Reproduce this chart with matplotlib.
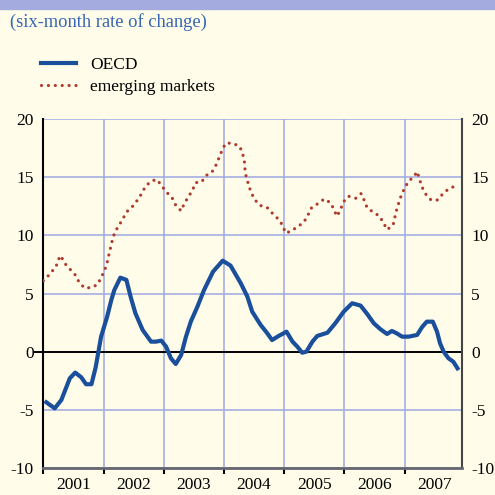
import matplotlib.pyplot as plt
from matplotlib.lines import Line2D

# OECD six-month rate of change (decimal years, percent)
oecd_x = [2001.05, 2001.19, 2001.30, 2001.44, 2001.53, 2001.63, 2001.71, 2001.80, 2001.87,
          2001.96, 2002.06, 2002.13, 2002.18, 2002.28, 2002.38, 2002.45, 2002.53, 2002.65,
          2002.79, 2002.87, 2002.96, 2003.04, 2003.12, 2003.20, 2003.29, 2003.37, 2003.45,
          2003.56, 2003.67, 2003.82, 2003.98, 2004.11, 2004.28, 2004.39, 2004.47, 2004.61,
          2004.72, 2004.80, 2004.91, 2005.04, 2005.14, 2005.22, 2005.30, 2005.37, 2005.47,
          2005.55, 2005.72, 2005.85, 2005.99, 2006.13, 2006.27, 2006.38, 2006.49, 2006.60,
          2006.71, 2006.79, 2006.87, 2006.96, 2007.07, 2007.21, 2007.29, 2007.37, 2007.47,
          2007.54, 2007.59, 2007.65, 2007.73, 2007.81, 2007.88]
oecd_y = [-4.35, -4.87, -4.15, -2.29, -1.8, -2.2, -2.8, -2.8, -1.34,
          1.29, 3.0, 4.45, 5.3, 6.36, 6.17, 4.73, 3.3, 1.87,
          0.86, 0.86, 0.95, 0.43, -0.57, -1.06, -0.28, 1.29, 2.58,
          3.87, 5.3, 6.88, 7.82, 7.4, 5.88, 4.73, 3.44, 2.3,
          1.58, 1.0, 1.35, 1.72, 0.86, 0.43, -0.09, 0.0, 0.86,
          1.35, 1.63, 2.44, 3.44, 4.16, 3.96, 3.24, 2.44, 1.93,
          1.52, 1.78, 1.58, 1.29, 1.29, 1.44, 2.1, 2.58, 2.58,
          1.72, 0.72, 0.0, -0.57, -0.86, -1.43]

# emerging markets six-month rate of change
em_x = [2001.0, 2001.04, 2001.12, 2001.21, 2001.25, 2001.29, 2001.35, 2001.44, 2001.53, 2001.59,
        2001.68, 2001.79, 2001.90, 2001.96, 2002.02, 2002.06, 2002.09, 2002.12, 2002.15,
        2002.19, 2002.26, 2002.33, 2002.39, 2002.49, 2002.57, 2002.64, 2002.70, 2002.81,
        2002.89, 2002.97, 2003.05, 2003.14, 2003.20, 2003.29, 2003.34, 2003.41, 2003.48,
        2003.53, 2003.63, 2003.70, 2003.80, 2003.87, 2003.92, 2003.97, 2004.03, 2004.14,
        2004.26, 2004.31, 2004.34, 2004.35, 2004.37, 2004.41, 2004.45, 2004.51, 2004.59,
        2004.72, 2004.81, 2004.90, 2004.98, 2005.02, 2005.10, 2005.21, 2005.32, 2005.39,
        2005.44, 2005.51, 2005.58, 2005.67, 2005.78, 2005.83, 2005.88, 2005.94, 2005.99,
        2006.07, 2006.19, 2006.28, 2006.33, 2006.38, 2006.48, 2006.58, 2006.65, 2006.71,
        2006.81, 2006.84, 2006.87, 2006.91, 2006.95, 2007.01, 2007.07, 2007.15, 2007.21,
        2007.25, 2007.29, 2007.35, 2007.44, 2007.55, 2007.64, 2007.74, 2007.85]
em_y = [6.1, 6.25, 6.77, 7.28, 7.91, 8.26, 7.63, 7.11, 6.6, 6.02,
        5.48, 5.5, 5.76, 6.36, 7.0, 7.65, 8.34, 9.0, 9.66,
        10.3, 10.87, 11.5, 12.04, 12.53, 13.07, 13.64, 14.25, 14.7,
        14.79, 14.22, 13.7, 13.22, 12.59, 12.1, 12.73, 13.3, 13.9,
        14.53, 14.59, 15.13, 15.42, 16.05, 16.68, 17.32, 17.92, 17.92,
        17.66, 17.06, 16.37, 15.68, 15.02, 14.36, 13.7, 13.1, 12.59,
        12.38, 11.87, 11.41, 10.84, 10.21, 10.32, 10.69, 11.09, 11.64,
        12.3, 12.53, 12.81, 13.13, 12.76, 12.16, 11.64, 12.27, 12.9,
        13.36, 13.19, 13.59, 13.02, 12.36, 11.99, 11.67, 11.09, 10.49,
        10.87, 11.56, 12.21, 12.87, 13.5, 14.13, 14.68, 15.0, 15.48,
        14.82, 14.16, 13.56, 13.04, 13.04, 13.59, 14.02, 14.25]

years = ['2001', '2002', '2003', '2004', '2005', '2006', '2007']
yticks = [-10, -5, 0, 5, 10, 15, 20]

bg = '#fffde9'
grid_col = '#9ea9e6'
blue = '#1a4f9c'
red = '#b03a2e'
dots = (0, (0.01, 2.15))
plt.rcParams['font.family'] = ['Liberation Serif', 'DejaVu Serif']

fig = plt.figure(figsize=(4.95, 4.95), dpi=100, facecolor=bg)
# lavender band at the top
fig.patches.append(plt.Rectangle((0, 1 - 8.5 / 495), 1, 8.5 / 495, transform=fig.transFigure,
                                 color='#a3abdf', zorder=0))

ax = fig.add_axes([43.3 / 495, 27 / 495, 418.4 / 495, 349 / 495])
ax.set_facecolor(bg)
ax.set_xlim(2001.02, 2007.95)
ax.set_ylim(-10, 20)

# grid
for yv in yticks:
    if yv != 0:
        ax.axhline(yv, color=grid_col, lw=1.1, zorder=1)
for i in range(1, len(years)):
    ax.axvline(2001 + i, color=grid_col, lw=1.1, zorder=1)
ax.axhline(0, color='black', lw=1.4, zorder=2, xmin=-0.02, clip_on=False)

ax.plot(em_x, em_y, color=red, lw=2.3, linestyle=dots, dash_capstyle='round', zorder=3)
ax.plot(oecd_x, oecd_y, color=blue, lw=3.0, zorder=4)

ax.spines['top'].set_visible(False)
ax.spines['left'].set_color('black')
ax.spines['left'].set_linewidth(1.5)
ax.spines['right'].set_color('#444444')
ax.spines['right'].set_linewidth(1.5)
ax.spines['bottom'].set_color('#666670')
ax.spines['bottom'].set_linewidth(2)

ax.set_yticks(yticks)
ax.set_yticklabels([str(v) for v in yticks])
ax.tick_params(axis='y', which='both', length=0, labelsize=12.5, pad=7,
               left=False, right=False, labelleft=True, labelright=True)

ax.set_xticks([2001 + i for i in range(len(years))])
ax.set_xticklabels([])
ax.tick_params(axis='x', which='major', length=4, width=1.5, color='black', direction='out')
for i, yr in enumerate(years):
    ax.text(2001.5 + i, -11.45, yr, ha='center', va='center', fontsize=12.5)

fig.text(10 / 495, 1 - 22 / 495, '(six-month rate of change)', color='#3565b5',
         fontsize=13.3, va='center', ha='left')

handles = [Line2D([], [], color=blue, lw=3.0),
           Line2D([], [], color=red, lw=2.3, linestyle=dots, dash_capstyle='round')]
fig.legend(handles, ['OECD', 'emerging markets'], loc='upper left',
           bbox_to_anchor=(34 / 495, 1 - 50 / 495), frameon=False, fontsize=12.5,
           handlelength=2.0, handletextpad=0.85, labelspacing=0.35, borderaxespad=0)

fig.savefig('out.png', dpi=100, facecolor=bg)
